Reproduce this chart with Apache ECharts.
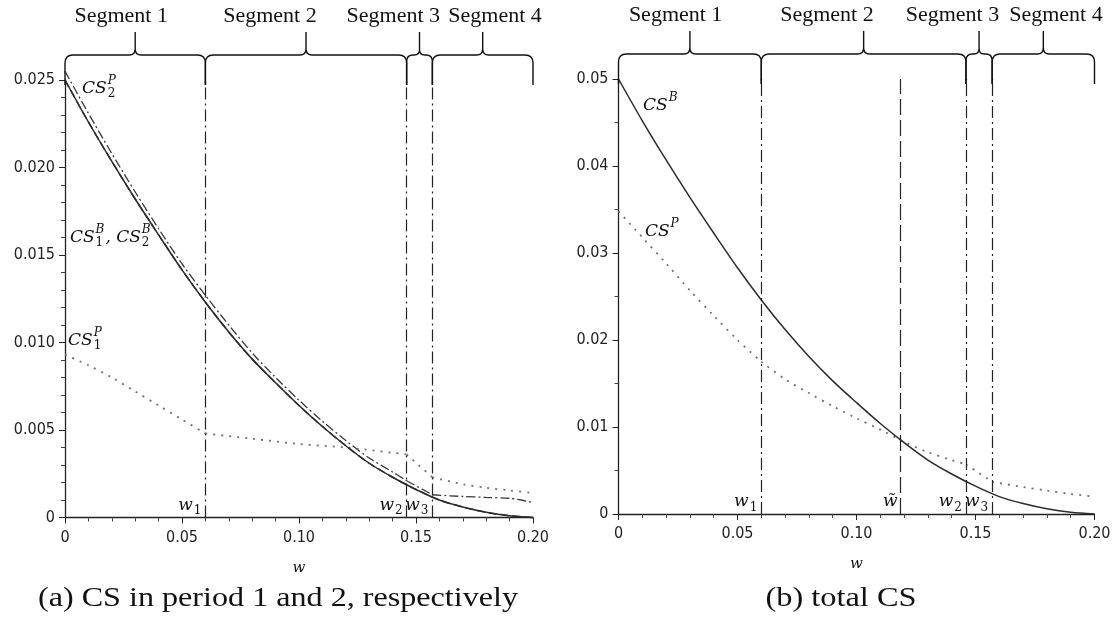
<!DOCTYPE html>
<html><head><meta charset="utf-8">
<script src="https://cdn.jsdelivr.net/npm/echarts@6/dist/echarts.min.js"></script>
<style>html,body{margin:0;padding:0;background:#fff}#c{width:1115px;height:622px}</style>
</head><body><div id="c"></div>
<script>
// ================= DATA =================
// sample points of w
const wSample = [0,0.01,0.02,0.03,0.04,0.05,0.06,0.07,0.08,0.09,0.10,0.11,0.12,0.13,0.14,0.15,0.16,0.17,0.18,0.19,0.20];
// (a) CS in period 1 and 2
const csB1 = [0.0250,0.0226,0.02035,0.0182,0.01615,0.01415,0.0123,0.0106,0.00905,0.0077,0.0064,0.0052,0.0041,0.0031,0.0023,0.0016,0.0010,0.0006,0.0003,0.0001,0.0000];
const csB2 = [0.0250,0.0226,0.02035,0.0182,0.01615,0.01415,0.0123,0.0106,0.00905,0.0077,0.0064,0.0052,0.0041,0.0031,0.0023,0.0016,0.0010,0.0006,0.0003,0.0001,0.0000];
const csP2W = [0,0.01,0.02,0.03,0.04,0.05,0.06,0.07,0.08,0.09,0.10,0.11,0.12,0.13,0.14,0.146,0.157,0.17,0.18,0.19,0.195,0.20];
const csP2  = [0.0255,0.0231,0.0208,0.0186,0.0165,0.0145,0.0127,0.0110,0.0094,0.0080,0.0067,0.0055,0.0044,0.0034,0.0026,0.0021,0.0013,0.0012,0.00115,0.0011,0.0010,0.00085];
const csP1W = [0,0.01,0.02,0.03,0.04,0.05,0.06,0.08,0.10,0.12,0.14,0.146,0.157,0.17,0.18,0.19,0.20];
const csP1  = [0.0093,0.0087,0.0080,0.0072,0.0064,0.0056,0.0048,0.0045,0.0042,0.0040,0.0037,0.0036,0.0023,0.0019,0.0017,0.00155,0.0014];
// (b) total CS
const csBtot = [0.0500,0.0452,0.0407,0.0364,0.0323,0.0283,0.0246,0.0212,0.0181,0.0153,0.0128,0.0104,0.0082,0.0062,0.0046,0.0032,0.0020,0.0012,0.0006,0.0002,0.0000];
const csPtotW = [0,0.01,0.02,0.03,0.04,0.05,0.06,0.07,0.08,0.09,0.10,0.11,0.12,0.13,0.14,0.146,0.157,0.17,0.18,0.19,0.20];
const csPtot  = [0.0348,0.0318,0.0288,0.0257,0.0228,0.0200,0.0175,0.0155,0.0139,0.0124,0.0110,0.0097,0.0083,0.0071,0.0062,0.0057,0.0037,0.0031,0.0027,0.0023,0.0020];
// thresholds
const w1 = 0.06, wTilde = 0.1185, w2 = 0.146, w3 = 0.157;
const segBounds = [[0,w1],[w1,w2],[w2,w3],[w3,0.20]];
const segNames = ['Segment 1','Segment 2','Segment 3','Segment 4'];
const segLabelW = [0.024,0.0876,0.1403,0.1838];
// curve labels [w, value, text]
const curveLabelsA = [[0.0073,0.0245,'CS_2^P'],[0.0021,0.0160,'CS_1^B, CS_2^B'],[0.0013,0.0101,'CS_1^P']];
const curveLabelsB = [[0.0103,0.0470,'CS^B'],[0.0111,0.0325,'CS^P']];
const wLabelsA = [[w1,0.0007,'w_1'],[w2,0.0007,'w_2'],[w3,0.0007,'w_3']];
const wLabelsB = [[w1,0.0014,'w_1'],[wTilde,0.0014,'w\u0303'],[w2,0.0014,'w_2'],[w3,0.0014,'w_3']];
const captions = ['(a) CS in period 1 and 2, respectively','(b) total CS'];

// ================= HELPERS =================
const mctx = document.createElement('canvas').getContext('2d');
function tw(t, font){ mctx.font = font; return mctx.measureText(t).width; }
const MFAM = '"DejaVu Serif", serif';
function mathEls(x, y, str, size, alignRight){
  const tokens = []; const re = /_([^_^\s,])|\^([^_^\s,])|([^_^]+)/g; let m;
  while((m = re.exec(str))){
    if(m[3] !== undefined) tokens.push({k:'b', t:m[3]});
    else { const last = tokens[tokens.length-1];
      const g = (last && last.k==='s') ? last : (tokens.push({k:'s'}), tokens[tokens.length-1]);
      if(m[1] !== undefined) g.sub = m[1]; else g.sup = m[2]; }
  }
  const els = []; let cx = 0; const ss = Math.round(size*0.7);
  tokens.forEach(tk => {
    if(tk.k==='b'){
      const isPunct = /^[,\s]+$/.test(tk.t);
      const f = (isPunct ? '' : 'italic ') + size + 'px ' + MFAM;
      els.push({t:tk.t, dx:cx, dy:0, f}); cx += tw(tk.t, f);
    } else {
      let wmax = 0;
      if(tk.sup){ const f = (/\d/.test(tk.sup)?'':'italic ') + ss + 'px ' + MFAM; els.push({t:tk.sup, dx:cx+1, dy:-size*0.45, f}); wmax = Math.max(wmax, tw(tk.sup,f)); }
      if(tk.sub){ const f = (/\d/.test(tk.sub)?'':'italic ') + ss + 'px ' + MFAM; els.push({t:tk.sub, dx:cx+1, dy:size*0.33, f}); wmax = Math.max(wmax, tw(tk.sub,f)); }
      cx += wmax + 2;
    }
  });
  const shift = alignRight ? -cx : 0;
  return els.map(e => ({type:'text', x:x+e.dx+shift, y:y+e.dy,
    style:{text:e.t, font:e.f, fill:'#111', align:'left', verticalAlign:'middle'}}));
}
function pieces(xs, vs, cuts){
  const out = []; let cur = [];
  xs.forEach((x,i) => { cur.push([x, vs[i]]);
    if(cuts.indexOf(x) >= 0 && i < xs.length-1){ out.push(cur); cur = [[x, vs[i]]]; } });
  out.push(cur); return out;
}
function lineSeries(data, gi, ls, z){
  return {type:'line', xAxisIndex:gi, yAxisIndex:gi, data, smooth:0.3, symbol:'none',
    clip:false, lineStyle:ls, z:z||2, silent:true};
}
const S_SOLID = {color:'#2b2b2b', width:1.5, type:'solid'};
const S_DASH  = {color:'#2b2b2b', width:1.5, type:[8,4]};
const S_DASHDOT = {color:'#3a3a3a', width:1.3, type:[9,3,2,3]};
const S_DOT = {color:'#707070', width:1.8, type:[2,6]};
const V_DASHDOT = {color:'#222', width:1.2, type:[12,4,2,4]};
const V_DASH = {color:'#222', width:1.2, type:[16,5]};

function braceSeries(gi){
  return {type:'custom', xAxisIndex:gi, yAxisIndex:gi, clip:false, silent:true, z:5,
    data: segBounds.map(b => [b[0], 0]),
    renderItem: function(params, api){
      const i = params.dataIndex; const b = segBounds[i];
      const x0 = api.coord([b[0],0])[0], x1 = api.coord([b[1],0])[0], xm = (x0+x1)/2;
      const top = params.coordSys.y;
      const yb = top-25, ye = top+5, yt = top-48;
      const r = Math.min(8, (x1-x0)/4), rt = Math.min(6, (x1-x0)/5);
      const p = `M${x0} ${ye} L${x0} ${yb+r} Q${x0} ${yb} ${x0+r} ${yb} L${xm-rt} ${yb} Q${xm} ${yb} ${xm} ${yb-rt} L${xm} ${yt} M${xm} ${yb-rt} Q${xm} ${yb} ${xm+rt} ${yb} L${x1-r} ${yb} Q${x1} ${yb} ${x1} ${yb+r} L${x1} ${ye}`;
      const lx = api.coord([segLabelW[i],0])[0];
      return {type:'group', children:[
        {type:'path', shape:{pathData:p}, style:{stroke:'#111', fill:null, lineWidth:1.4}},
        {type:'text', x:lx, y:top-64, style:{text:segNames[i], font:'22px "Liberation Serif", serif', fill:'#111', align:'center', verticalAlign:'middle'}}
      ]};
    }};
}
function textSeries(gi, labels, size, alignRight){
  return {type:'custom', xAxisIndex:gi, yAxisIndex:gi, clip:false, silent:true, z:6,
    data: labels.map(l => [l[0], l[1]]),
    renderItem: function(params, api){
      const l = labels[params.dataIndex];
      const p = api.coord([l[0], l[1]]);
      return {type:'group', children: mathEls(p[0] + (alignRight ? -3 : 0), p[1], l[2], size, alignRight)};
    }};
}
function vLines(gi, list){
  return {type:'line', xAxisIndex:gi, yAxisIndex:gi, data:[], silent:true,
    markLine:{silent:true, precision:6, symbol:['none','none'], label:{show:false}, animation:false,
      data: list.map(it => ({xAxis: it[0], lineStyle: it[1]}))}};
}
const TICKFONT = '"DejaVu Sans Condensed", "DejaVu Sans", sans-serif';
function xAxis(gi){
  return {type:'value', gridIndex:gi, min:0, max:0.2, interval:0.05,
    name:'w', nameLocation:'middle', nameGap:43,
    nameTextStyle:{fontFamily:MFAM, fontStyle:'italic', fontSize:15, color:'#111'},
    axisLine:{lineStyle:{color:'#222', width:1.3}},
    axisTick:{length:6, lineStyle:{color:'#222'}},
    minorTick:{show:true, splitNumber:5, length:4, lineStyle:{color:'#444'}},
    splitLine:{show:false},
    axisLabel:{margin:12, fontFamily:TICKFONT, fontSize:16, color:'#222',
      formatter: v => v === 0 ? '0' : v.toFixed(2)}};
}
function yAxis(gi, max, interval, dec, split){
  return {type:'value', gridIndex:gi, min:0, max, interval,
    axisLine:{show:true, lineStyle:{color:'#222', width:1.3}},
    axisTick:{show:true, length:6, lineStyle:{color:'#222'}},
    minorTick:{show:true, splitNumber:split, length:4, lineStyle:{color:'#444'}},
    splitLine:{show:false},
    axisLabel:{margin:10, fontFamily:TICKFONT, fontSize:16, color:'#222',
      formatter: v => v === 0 ? '0' : v.toFixed(dec)}};
}

// ================= CHART =================
const series = [];
series.push(lineSeries(wSample.map((w,i)=>[w,csB1[i]]), 0, S_SOLID, 3));
series.push(lineSeries(wSample.map((w,i)=>[w,csB2[i]]), 0, S_DASH, 3));
pieces(csP2W, csP2, [w2, w3]).forEach(d => series.push(lineSeries(d, 0, S_DASHDOT, 2)));
pieces(csP1W, csP1, [w1, w2, w3]).forEach(d => series.push(lineSeries(d, 0, S_DOT, 2)));
series.push(lineSeries(wSample.map((w,i)=>[w,csBtot[i]]), 1, S_SOLID, 3));
pieces(csPtotW, csPtot, [w1, w2, w3]).forEach(d => series.push(lineSeries(d, 1, S_DOT, 2)));
series.push(vLines(0, [[w1,V_DASHDOT],[w2,V_DASHDOT],[w3,V_DASHDOT]]));
series.push(vLines(1, [[w1,V_DASHDOT],[wTilde,V_DASH],[w2,V_DASHDOT],[w3,V_DASHDOT]]));
series.push(braceSeries(0));
series.push(braceSeries(1));
series.push(textSeries(0, curveLabelsA, 17, false));
series.push(textSeries(1, curveLabelsB, 17, false));
series.push(textSeries(0, wLabelsA, 17, true));
series.push(textSeries(1, wLabelsB, 17, true));

const chart = echarts.init(document.getElementById('c'), null, {renderer:'canvas'});
chart.setOption({
  animation:false,
  backgroundColor:'#fff',
  grid:[{left:65, top:80, width:468, height:437.5},
        {left:618.5, top:79, width:476, height:435}],
  xAxis:[xAxis(0), xAxis(1)],
  yAxis:[yAxis(0, 0.025, 0.005, 3, 5), yAxis(1, 0.05, 0.01, 2, 2)],
  graphic:[
    {type:'text', x:278, y:599, scaleX:1.19, style:{text:captions[0], font:'27px "Liberation Serif", serif', fill:'#111', align:'center', verticalAlign:'middle'}},
    {type:'text', x:841, y:599, scaleX:1.2, style:{text:captions[1], font:'27px "Liberation Serif", serif', fill:'#111', align:'center', verticalAlign:'middle'}}
  ],
  series
});
</script></body></html>
